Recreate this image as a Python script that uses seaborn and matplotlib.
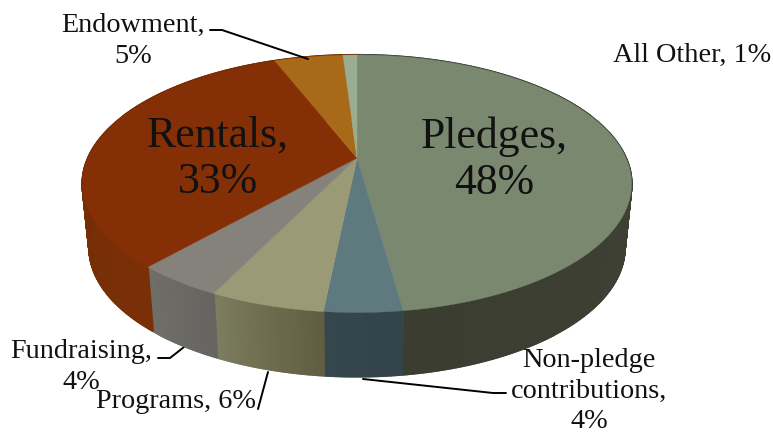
import numpy as np
import matplotlib
matplotlib.use("Agg")
import matplotlib.pyplot as plt
import seaborn as sns

# slices, clockwise from the top of the pie
categories = ["Pledges", "Non-pledge contributions", "Programs", "Fundraising", "Rentals", "Endowment", "All Other"]
values = [47.8, 3.8, 5.6, 4.3, 32.6, 4.9, 1.0]

top_colors = ["#7a8870", "#5f7a7e", "#9a9a76", "#85817b", "#842f06", "#a86a18", "#9aad90"]
wall_left = ["#3a3d2f", "#34474c", "#7c7c5e", "#706e69", "#6c2903", "#6e2a04", "#6e2a04"]
wall_right = ["#43473a", "#33444a", "#615d42", "#666460", "#7a3007", "#7a3007", "#7a3007"]

sns.set_theme(style="white")
plt.rcParams["font.family"] = ["Liberation Serif", "DejaVu Serif"]

# pie geometry in picture pixels
cx, cy = 357, 158
rx, ry, persp = 269, 123.6, 0.2
depth = 64
shrink = 0.975


def rim(theta):
    # point on the rim for an angle clockwise from the top (perspective view)
    u, v = np.sin(theta), np.cos(theta)
    w = 1 + persp * v
    return cx + rx * u / w, cy - ry * v / w


fig = plt.figure(figsize=(7.73, 4.33), dpi=100)
ax = fig.add_axes([0, 0, 1, 1])
ax.set_xlim(0, 773)
ax.set_ylim(433, 0)
ax.axis("off")

edges = np.cumsum([0] + values) / sum(values) * 2 * np.pi

# side wall first
for i, cat in enumerate(categories):
    start, stop = edges[i], edges[i + 1]
    n = max(int((stop - start) * 120), 2)
    shades = sns.blend_palette([wall_left[i], wall_right[i]], n)
    steps = np.linspace(start, stop, n + 1)
    # right to left on the front of the pie, so blend runs by angle
    for j in range(n):
        t = np.linspace(steps[j], steps[j + 1], 4)
        x, y = rim(t)
        xb = cx + (x - cx) * shrink
        yb = y + depth
        c = shades[n - 1 - j]
        ax.fill(np.r_[x, xb[::-1]], np.r_[y, yb[::-1]], color=c, lw=1.5, zorder=2)

# top surface
for i, cat in enumerate(categories):
    t = np.linspace(edges[i], edges[i + 1], 120)
    x, y = rim(t)
    ax.fill(np.r_[cx, x], np.r_[cy, y], color=top_colors[i], lw=0.3, zorder=3)

pct = [f"{round(v)}%" for v in values]
small = 20.3
ink = "#111111"
ax.text(494, 160, f"Pledges,\n{pct[0]}", fontsize=31.5, ha="center", va="center", linespacing=1.2, color=ink, zorder=5)
ax.text(218, 159, f"Rentals,\n{pct[4]}", fontsize=31.5, ha="center", va="center", linespacing=1.2, color=ink, zorder=5)
ax.text(692, 55, f"All Other, {pct[6]}", fontsize=small, ha="center", va="center", color=ink)
ax.text(133, 41, f"Endowment,\n{pct[5]}", fontsize=small, ha="center", va="center", linespacing=1.3, color=ink)
ax.text(81, 367, f"Fundraising,\n{pct[3]}", fontsize=small, ha="center", va="center", linespacing=1.32, color=ink)
ax.text(176, 402, f"Programs, {pct[2]}", fontsize=small, ha="center", va="center", color=ink, zorder=6)
ax.text(589, 391, f"Non-pledge\ncontributions,\n{pct[1]}", fontsize=small, ha="center", va="center", linespacing=1.28, color=ink)

# leader lines
ax.plot([210, 222, 308], [30, 30, 59], color="black", lw=1.4, zorder=4)
ax.plot([158, 170, 184], [358, 358, 347], color="black", lw=1.4, zorder=1)
ax.plot([258, 268], [409, 372], color="black", lw=1.4, zorder=1)
ax.plot([363, 493, 506], [379, 393, 393], color="black", lw=1.4, zorder=1)

fig.savefig("out.png", dpi=100)
